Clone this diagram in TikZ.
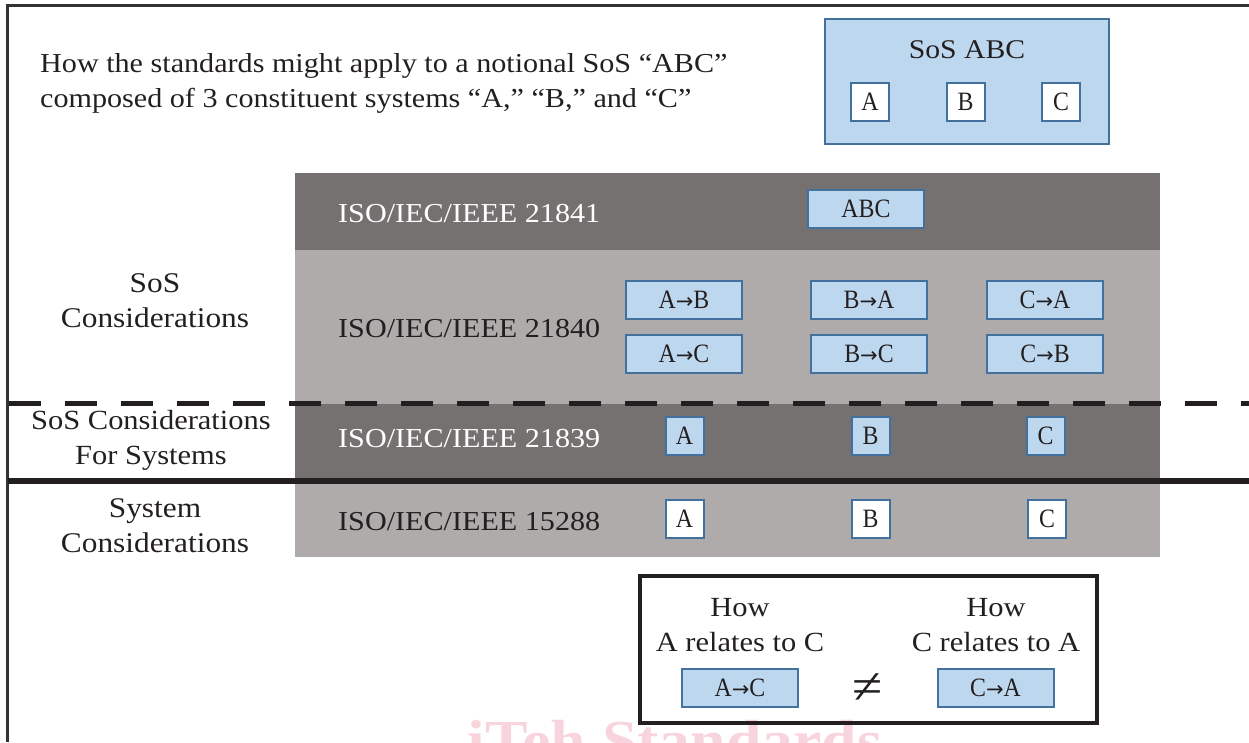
\documentclass[tikz,border=0pt]{standalone}
\usepackage{fontspec}
\setmainfont[FakeStretch=1.1]{Liberation Serif}
\newfontfamily\boxfont[FakeStretch=0.9]{Liberation Serif}
\newfontfamily\arrfont{DejaVu Sans}
\newcommand\rarr{{\arrfont\fontsize{21}{21}\selectfont →}}
\definecolor{dk}{HTML}{767171}
\definecolor{lt}{HTML}{AFABAB}
\definecolor{bluef}{HTML}{BDD7EE}
\definecolor{blued}{HTML}{41719C}
\definecolor{ink}{HTML}{231F20}
\definecolor{frame}{HTML}{333333}
\definecolor{wm}{HTML}{F8D5DC}
\begin{document}
\begin{tikzpicture}[x=1pt,y=-1pt,
  txt/.style={font=\fontsize{27.7}{35}\selectfont, text=ink, align=center, inner sep=0pt},
  bandlbl/.style={font=\fontsize{27.4}{35}\selectfont, anchor=west, inner sep=0pt},
  relbox/.style={draw=blued, line width=2pt, fill=bluef, minimum width=116pt, minimum height=38pt, inner sep=0pt, font=\boxfont\fontsize{26.5}{30}\selectfont, text=ink},
  sysbox/.style={draw=blued, line width=2pt, fill=white, minimum width=38pt, minimum height=38pt, inner sep=0pt, font=\boxfont\fontsize{26.5}{30}\selectfont, text=ink},
  sysboxb/.style={sysbox, fill=bluef}]
\useasboundingbox (0,0) rectangle (1249,742);
\begin{scope}
\clip (0,0) rectangle (1249,742);
\node[font=\rmfamily\fontsize{58}{70}\selectfont\bfseries, text=wm, anchor=base, inner sep=0pt] (wmark) at (675,760) {iTeh Standards};
\end{scope}
% frame
\draw[frame, line width=3pt] (7.5,742) -- (7.5,5.5) -- (1249,5.5);
% title
\node[txt, align=left, anchor=west, font=\fontsize{27.4}{35}\selectfont] (title) at (40,83) {How the standards might apply to a notional SoS “ABC”\\composed of 3 constituent systems “A,” “B,” and “C”};
% SoS ABC
\node[relbox, minimum width=284pt, minimum height=125pt] (sos) at (967,81.5) {};
\node[txt, font=\fontsize{27}{30}\selectfont] (sostitle) at (967,49.5) {SoS ABC};
\node[sysbox] (sa) at (870,101.5) {A};
\node[sysbox] (sb) at (965.5,101.5) {B};
\node[sysbox] (sc) at (1061,101.5) {C};
% bands
\fill[dk] (295,173) rectangle (1160,249.5);
\fill[lt] (295,249.5) rectangle (1160,404);
\fill[dk] (295,404) rectangle (1160,481);
\fill[lt] (295,481) rectangle (1160,557);
\node[bandlbl, text=white] (s21841) at (338,213.5) {ISO/IEC/IEEE 21841};
\node[bandlbl, text=ink] (s21840) at (338,328.5) {ISO/IEC/IEEE 21840};
\node[bandlbl, text=white] (s21839) at (338,438.5) {ISO/IEC/IEEE 21839};
\node[bandlbl, text=ink] (s15288) at (338,521.5) {ISO/IEC/IEEE 15288};
\node[relbox] (abc) at (866,208.5) {ABC};
\node[relbox] (ab) at (684,300) {A\rarr B};
\node[relbox] (ac) at (684,354) {A\rarr C};
\node[relbox] (ba) at (869,300) {B\rarr A};
\node[relbox] (bc) at (869,354) {B\rarr C};
\node[relbox] (ca) at (1045,300) {C\rarr A};
\node[relbox] (cb) at (1045,354) {C\rarr B};
\node[sysboxb] (a39) at (684.5,436) {A};
\node[sysboxb] (b39) at (870.5,436) {B};
\node[sysboxb] (c39) at (1045.5,436) {C};
\node[sysbox] (a88) at (684.5,519) {A};
\node[sysbox] (b88) at (870.5,519) {B};
\node[sysbox] (c88) at (1047,519) {C};
% divider lines
\draw[ink, line width=5pt, dash pattern=on 32pt off 24pt] (9,403) -- (1249,403);
\draw[ink, line width=6.5pt] (7.5,481) -- (1249,481);
% left labels
\node[txt, font=\fontsize{28.5}{35}\selectfont] (l1) at (155,300.5) {SoS\\Considerations};
\node[txt] (l2) at (151,440.5) {SoS Considerations\\For Systems};
\node[txt, font=\fontsize{28.5}{35}\selectfont] (l3) at (155,526) {System\\Considerations};
% bottom box
\draw[ink, line width=4pt] (640,576) rectangle (1097,723);
\node[txt] (h1) at (740,625) {How\\A relates to C};
\node[txt] (h2) at (996,625) {How\\C relates to A};
\node[relbox] (ac2) at (740,688) {A\rarr C};
\node[relbox] (ca2) at (995.5,688) {C\rarr A};
\node[txt, font=\fontsize{50}{50}\selectfont] (neq) at (868,689) {≠};
\end{tikzpicture}
\end{document}
